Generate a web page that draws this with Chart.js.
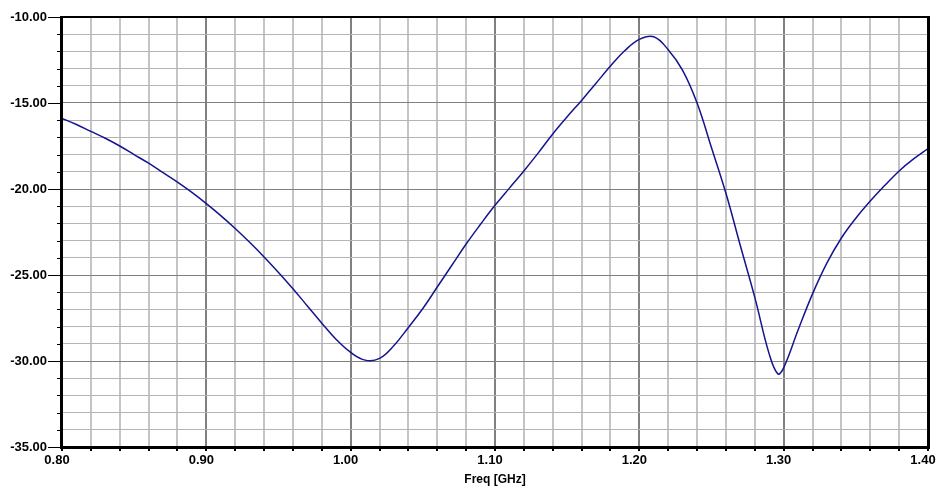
<!DOCTYPE html>
<html>
<head>
<meta charset="utf-8">
<script src="https://cdn.jsdelivr.net/npm/chart.js@4/dist/chart.umd.min.js"></script>
<style>
  html, body { margin: 0; padding: 0; background: #fff; }
  #wrap { width: 937px; height: 489px; }
</style>
</head>
<body>
<div id="wrap"><canvas id="sparamChart" width="937" height="489"></canvas></div>
<script>
// frequency points (GHz) and magnitude (dB)
const freqGHz = [0.80, 0.81, 0.82, 0.83, 0.84, 0.85, 0.86, 0.87, 0.88, 0.89,
                 0.90, 0.91, 0.92, 0.93, 0.94, 0.95, 0.96, 0.97, 0.98, 0.99,
                 1.00, 1.01, 1.02, 1.03, 1.04, 1.05, 1.06, 1.07, 1.08,
                 1.09, 1.10, 1.11, 1.12, 1.13, 1.14, 1.15, 1.16, 1.17, 1.18,
                 1.19, 1.20, 1.21, 1.22, 1.23, 1.24, 1.25, 1.26, 1.27,
                 1.28, 1.29, 1.296, 1.30, 1.31, 1.32, 1.33, 1.34, 1.35, 1.36,
                 1.37, 1.38, 1.39, 1.40];
const magDB = [-15.9, -16.25, -16.65, -17.05, -17.5, -18.0, -18.5, -19.05, -19.6, -20.2,
               -20.85, -21.55, -22.3, -23.1, -23.95, -24.85, -25.8, -26.8, -27.8, -28.75,
               -29.5, -29.95, -29.85, -29.1, -28.05, -26.95, -25.7, -24.45, -23.2,
               -22.05, -20.95, -19.95, -18.95, -17.9, -16.8, -15.8, -14.85, -13.85, -12.85,
               -11.95, -11.3, -11.15, -11.9, -13.1, -15.0, -17.6, -20.25, -23.3,
               -26.3, -29.6, -30.75, -30.4, -28.2, -26.1, -24.3, -22.85, -21.7, -20.7,
               -19.8, -18.95, -18.25, -17.65];

const xMajor = v => Math.abs(v * 10 - Math.round(v * 10)) < 1e-6;
const yMajor = v => Math.abs(v / 5 - Math.round(v / 5)) < 1e-6;
const labelFont = { family: '"Liberation Sans", Arial, sans-serif', size: 13, weight: 'bold' };

// black frame + left tick marks (long on majors, short on minors)
const framePlugin = {
    id: 'frame',
    afterDraw(chart) {
        const { ctx, chartArea: a, scales } = chart;
        ctx.save();
        ctx.strokeStyle = '#000';
        ctx.lineWidth = 1;
        for (let v = -35; v <= -10; v++) {
            const y = Math.round(scales.y.getPixelForValue(v)) + 0.5;
            ctx.beginPath();
            ctx.moveTo(a.left - (yMajor(v) ? 14 : 5), y);
            ctx.lineTo(a.left, y);
            ctx.stroke();
        }
        ctx.fillStyle = '#000';
        ctx.fillRect(a.left - 2, a.top - 1, 3, a.bottom - a.top + 2);
        ctx.fillRect(a.left - 2, a.bottom - 1, a.right - a.left + 3, 3);
        ctx.fillRect(a.left - 2, a.top - 1, a.right - a.left + 3, 2);
        ctx.fillRect(a.right - 1, a.top - 1, 3, a.bottom - a.top + 3);
        ctx.restore();
    }
};

new Chart(document.getElementById('sparamChart').getContext('2d'), {
    type: 'line',
    data: {
        datasets: [{
            data: freqGHz.map((f, i) => ({ x: f, y: magDB[i] })),
            borderColor: '#14148f',
            borderWidth: 1.5,
            pointRadius: 0,
            fill: false,
            tension: 0.4
        }]
    },
    options: {
        responsive: false,
        animation: false,
        layout: { padding: { left: 0, top: 17, right: 9, bottom: 0 } },
        plugins: { legend: { display: false }, tooltip: { enabled: false } },
        scales: {
            x: {
                type: 'linear',
                min: 0.8,
                max: 1.4,
                afterFit: s => { s.height = 42; s.paddingLeft = 0; s.paddingRight = 0; },
                border: { display: false },
                grid: {
                    color: c => xMajor(c.tick.value) ? '#808080' : '#c4c4c4',
                    lineWidth: 2,
                    tickLength: 4,
                    tickColor: '#000'
                },
                ticks: {
                    stepSize: 0.02,
                    autoSkip: false,
                    maxRotation: 0,
                    padding: 2,
                    labelOffset: -5,
                    color: '#000',
                    font: labelFont,
                    callback: v => xMajor(v) ? v.toFixed(2) : ''
                },
                title: {
                    display: true,
                    text: 'Freq [GHz]',
                    color: '#000',
                    font: { family: '"Liberation Sans", Arial, sans-serif', size: 12, weight: 'bold' },
                    padding: { top: 0, bottom: 2 }
                }
            },
            y: {
                min: -35,
                max: -10,
                afterFit: s => { s.width = 62; s.paddingTop = 0; s.paddingBottom = 0; },
                border: { display: false },
                grid: {
                    color: c => yMajor(c.tick.value) ? '#808080' : '#b4b4b4',
                    lineWidth: 1,
                    drawTicks: false
                },
                ticks: {
                    stepSize: 1,
                    autoSkip: false,
                    padding: 15,
                    color: '#000',
                    font: labelFont,
                    callback: v => yMajor(v) ? v.toFixed(2) : ''
                }
            }
        }
    },
    plugins: [framePlugin]
});
</script>
</body>
</html>
